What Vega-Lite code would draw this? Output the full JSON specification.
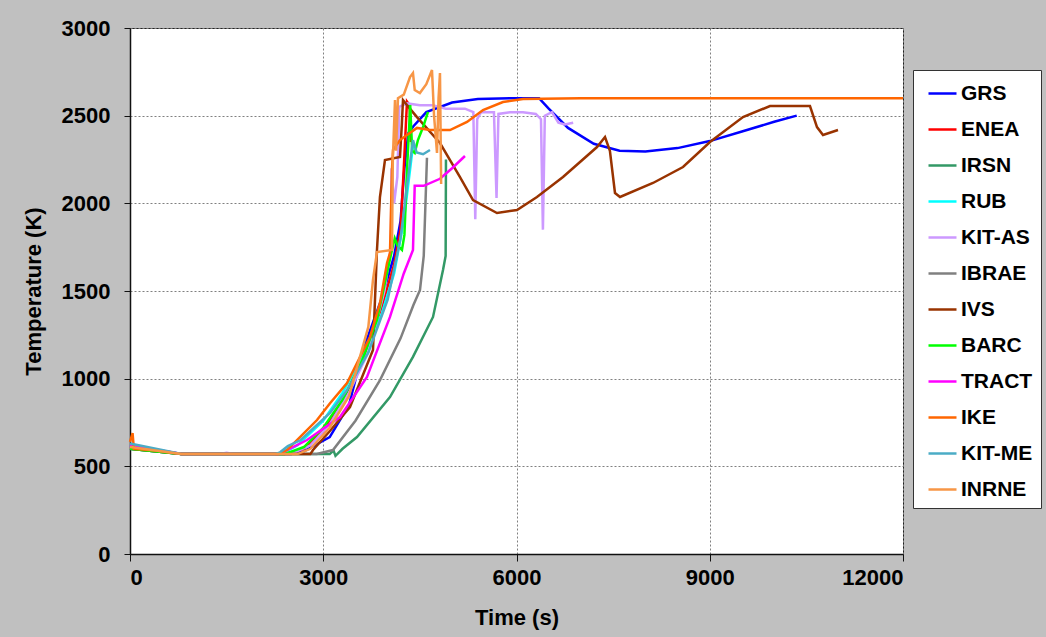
{
  "$schema": "https://vega.github.io/schema/vega-lite/v6.json",
  "autosize": {"type": "none"},
  "padding": {"left": 130, "top": 28, "right": 143, "bottom": 83},
  "width": 773,
  "height": 526,
  "background": "#c0c0c0",
  "config": {
    "view": {"fill": "white", "stroke": "#222222", "strokeWidth": 1},
    "font": "Liberation Sans",
    "legend": {"strokeWidth": 1}
  },
  "data": {"values": [
    {"s":"GRS","t":0,"T":620},{"s":"GRS","t":300,"T":600},{"s":"GRS","t":800,"T":570},{"s":"GRS","t":2500,"T":570},{"s":"GRS","t":2700,"T":585},{"s":"GRS","t":3100,"T":667},{"s":"GRS","t":3400,"T":850},{"s":"GRS","t":3617,"T":1163},{"s":"GRS","t":3900,"T":1450},{"s":"GRS","t":4100,"T":1700},{"s":"GRS","t":4200,"T":1900},{"s":"GRS","t":4260,"T":2200},{"s":"GRS","t":4320,"T":2400},{"s":"GRS","t":4400,"T":2440},{"s":"GRS","t":4600,"T":2520},{"s":"GRS","t":5000,"T":2575},{"s":"GRS","t":5400,"T":2595},{"s":"GRS","t":6000,"T":2600},{"s":"GRS","t":6350,"T":2600},{"s":"GRS","t":6500,"T":2540},{"s":"GRS","t":6800,"T":2430},{"s":"GRS","t":7200,"T":2340},{"s":"GRS","t":7600,"T":2300},{"s":"GRS","t":8000,"T":2295},{"s":"GRS","t":8500,"T":2315},{"s":"GRS","t":9000,"T":2355},{"s":"GRS","t":9500,"T":2410},{"s":"GRS","t":10000,"T":2465},{"s":"GRS","t":10350,"T":2500},

    {"s":"ENEA","t":0,"T":610},{"s":"ENEA","t":800,"T":570},{"s":"ENEA","t":2400,"T":570},{"s":"ENEA","t":2700,"T":600},{"s":"ENEA","t":3000,"T":700},{"s":"ENEA","t":3300,"T":870},{"s":"ENEA","t":3600,"T":1100},{"s":"ENEA","t":3900,"T":1400},{"s":"ENEA","t":4100,"T":1650},{"s":"ENEA","t":4200,"T":1850},{"s":"ENEA","t":4250,"T":2200},{"s":"ENEA","t":4300,"T":2580},{"s":"ENEA","t":4340,"T":2560},{"s":"ENEA","t":4360,"T":2350},

    {"s":"IRSN","t":0,"T":600},{"s":"IRSN","t":800,"T":570},{"s":"IRSN","t":3100,"T":570},{"s":"IRSN","t":3160,"T":590},{"s":"IRSN","t":3190,"T":560},{"s":"IRSN","t":3300,"T":600},{"s":"IRSN","t":3524,"T":667},{"s":"IRSN","t":4036,"T":895},{"s":"IRSN","t":4393,"T":1124},{"s":"IRSN","t":4704,"T":1352},{"s":"IRSN","t":4859,"T":1620},{"s":"IRSN","t":4900,"T":1700},{"s":"IRSN","t":4905,"T":2250},

    {"s":"RUB","t":0,"T":600},{"s":"RUB","t":800,"T":570},{"s":"RUB","t":2350,"T":570},{"s":"RUB","t":2600,"T":620},{"s":"RUB","t":3000,"T":760},{"s":"RUB","t":3300,"T":920},{"s":"RUB","t":3600,"T":1120},{"s":"RUB","t":3900,"T":1360},{"s":"RUB","t":4100,"T":1600},{"s":"RUB","t":4250,"T":1900},{"s":"RUB","t":4350,"T":2200},{"s":"RUB","t":4400,"T":2350},

    {"s":"KIT-AS","t":0,"T":620},{"s":"KIT-AS","t":800,"T":570},{"s":"KIT-AS","t":1400,"T":570},{"s":"KIT-AS","t":1500,"T":578},{"s":"KIT-AS","t":1600,"T":570},{"s":"KIT-AS","t":2500,"T":570},{"s":"KIT-AS","t":2800,"T":620},{"s":"KIT-AS","t":3100,"T":740},{"s":"KIT-AS","t":3400,"T":920},{"s":"KIT-AS","t":3700,"T":1150},{"s":"KIT-AS","t":3950,"T":1500},{"s":"KIT-AS","t":4050,"T":1750},{"s":"KIT-AS","t":4060,"T":2200},{"s":"KIT-AS","t":4080,"T":2100},{"s":"KIT-AS","t":4100,"T":2000},{"s":"KIT-AS","t":4150,"T":2150},{"s":"KIT-AS","t":4180,"T":2550},{"s":"KIT-AS","t":4300,"T":2570},{"s":"KIT-AS","t":4500,"T":2560},{"s":"KIT-AS","t":4700,"T":2560},{"s":"KIT-AS","t":4900,"T":2540},{"s":"KIT-AS","t":5200,"T":2540},{"s":"KIT-AS","t":5330,"T":2520},{"s":"KIT-AS","t":5360,"T":1910},{"s":"KIT-AS","t":5390,"T":2480},{"s":"KIT-AS","t":5450,"T":2520},{"s":"KIT-AS","t":5650,"T":2520},{"s":"KIT-AS","t":5690,"T":2030},{"s":"KIT-AS","t":5720,"T":2510},{"s":"KIT-AS","t":5900,"T":2520},{"s":"KIT-AS","t":6100,"T":2520},{"s":"KIT-AS","t":6300,"T":2510},{"s":"KIT-AS","t":6380,"T":2480},{"s":"KIT-AS","t":6410,"T":1850},{"s":"KIT-AS","t":6440,"T":2500},{"s":"KIT-AS","t":6550,"T":2520},{"s":"KIT-AS","t":6650,"T":2460},{"s":"KIT-AS","t":6750,"T":2450},{"s":"KIT-AS","t":6880,"T":2460},

    {"s":"IBRAE","t":0,"T":600},{"s":"IBRAE","t":800,"T":570},{"s":"IBRAE","t":2900,"T":570},{"s":"IBRAE","t":3151,"T":593},{"s":"IBRAE","t":3500,"T":760},{"s":"IBRAE","t":3881,"T":992},{"s":"IBRAE","t":4200,"T":1230},{"s":"IBRAE","t":4400,"T":1420},{"s":"IBRAE","t":4502,"T":1506},{"s":"IBRAE","t":4560,"T":1700},{"s":"IBRAE","t":4610,"T":2260},

    {"s":"IVS","t":0,"T":600},{"s":"IVS","t":800,"T":570},{"s":"IVS","t":2800,"T":570},{"s":"IVS","t":2841,"T":593},{"s":"IVS","t":3100,"T":700},{"s":"IVS","t":3415,"T":838},{"s":"IVS","t":3772,"T":1163},{"s":"IVS","t":3834,"T":1734},{"s":"IVS","t":3880,"T":2036},{"s":"IVS","t":3958,"T":2247},{"s":"IVS","t":4191,"T":2264},{"s":"IVS","t":4220,"T":2450},{"s":"IVS","t":4238,"T":2589},{"s":"IVS","t":4300,"T":2560},{"s":"IVS","t":4455,"T":2492},{"s":"IVS","t":4812,"T":2344},{"s":"IVS","t":5123,"T":2150},{"s":"IVS","t":5325,"T":2019},{"s":"IVS","t":5697,"T":1945},{"s":"IVS","t":6008,"T":1962},{"s":"IVS","t":6318,"T":2036},{"s":"IVS","t":6722,"T":2150},{"s":"IVS","t":7250,"T":2321},{"s":"IVS","t":7374,"T":2378},{"s":"IVS","t":7450,"T":2300},{"s":"IVS","t":7529,"T":2059},{"s":"IVS","t":7607,"T":2036},{"s":"IVS","t":8119,"T":2116},{"s":"IVS","t":8585,"T":2207},{"s":"IVS","t":9004,"T":2350},{"s":"IVS","t":9516,"T":2492},{"s":"IVS","t":9935,"T":2555},{"s":"IVS","t":10556,"T":2555},{"s":"IVS","t":10665,"T":2435},{"s":"IVS","t":10758,"T":2390},{"s":"IVS","t":10991,"T":2418},

    {"s":"BARC","t":0,"T":600},{"s":"BARC","t":800,"T":570},{"s":"BARC","t":2400,"T":570},{"s":"BARC","t":2700,"T":610},{"s":"BARC","t":3000,"T":720},{"s":"BARC","t":3300,"T":880},{"s":"BARC","t":3600,"T":1100},{"s":"BARC","t":3834,"T":1335},{"s":"BARC","t":4000,"T":1620},{"s":"BARC","t":4067,"T":1734},{"s":"BARC","t":4110,"T":1800},{"s":"BARC","t":4150,"T":1760},{"s":"BARC","t":4222,"T":1734},{"s":"BARC","t":4260,"T":1820},{"s":"BARC","t":4300,"T":2190},{"s":"BARC","t":4350,"T":2560},{"s":"BARC","t":4380,"T":2300},{"s":"BARC","t":4420,"T":2287},{"s":"BARC","t":4470,"T":2361},{"s":"BARC","t":4550,"T":2435},{"s":"BARC","t":4626,"T":2521},

    {"s":"TRACT","t":0,"T":620},{"s":"TRACT","t":800,"T":570},{"s":"TRACT","t":2300,"T":570},{"s":"TRACT","t":2437,"T":593},{"s":"TRACT","t":2748,"T":650},{"s":"TRACT","t":3260,"T":781},{"s":"TRACT","t":3679,"T":1010},{"s":"TRACT","t":4036,"T":1352},{"s":"TRACT","t":4250,"T":1600},{"s":"TRACT","t":4393,"T":1734},{"s":"TRACT","t":4420,"T":2100},{"s":"TRACT","t":4560,"T":2100},{"s":"TRACT","t":4812,"T":2140},{"s":"TRACT","t":5000,"T":2200},{"s":"TRACT","t":5200,"T":2270},

    {"s":"IKE","t":0,"T":640},{"s":"IKE","t":40,"T":690},{"s":"IKE","t":60,"T":600},{"s":"IKE","t":400,"T":590},{"s":"IKE","t":800,"T":570},{"s":"IKE","t":2300,"T":570},{"s":"IKE","t":2437,"T":593},{"s":"IKE","t":2639,"T":667},{"s":"IKE","t":2903,"T":764},{"s":"IKE","t":3105,"T":860},{"s":"IKE","t":3369,"T":975},{"s":"IKE","t":3726,"T":1238},{"s":"IKE","t":3881,"T":1432},{"s":"IKE","t":3990,"T":1660},{"s":"IKE","t":4036,"T":1717},{"s":"IKE","t":4067,"T":2190},{"s":"IKE","t":4083,"T":2304},{"s":"IKE","t":4191,"T":2361},{"s":"IKE","t":4455,"T":2430},{"s":"IKE","t":4657,"T":2418},{"s":"IKE","t":4968,"T":2418},{"s":"IKE","t":5232,"T":2464},{"s":"IKE","t":5480,"T":2532},{"s":"IKE","t":5790,"T":2578},{"s":"IKE","t":6101,"T":2595},{"s":"IKE","t":7000,"T":2600},{"s":"IKE","t":12000,"T":2600},

    {"s":"KIT-ME","t":0,"T":630},{"s":"KIT-ME","t":800,"T":570},{"s":"KIT-ME","t":2250,"T":570},{"s":"KIT-ME","t":2329,"T":580},{"s":"KIT-ME","t":2450,"T":615},{"s":"KIT-ME","t":2650,"T":650},{"s":"KIT-ME","t":3105,"T":804},{"s":"KIT-ME","t":3369,"T":935},{"s":"KIT-ME","t":3700,"T":1150},{"s":"KIT-ME","t":4000,"T":1450},{"s":"KIT-ME","t":4200,"T":1800},{"s":"KIT-ME","t":4300,"T":2100},{"s":"KIT-ME","t":4393,"T":2361},{"s":"KIT-ME","t":4450,"T":2290},{"s":"KIT-ME","t":4550,"T":2280},{"s":"KIT-ME","t":4657,"T":2304},

    {"s":"INRNE","t":0,"T":610},{"s":"INRNE","t":800,"T":570},{"s":"INRNE","t":2600,"T":570},{"s":"INRNE","t":2800,"T":600},{"s":"INRNE","t":3100,"T":720},{"s":"INRNE","t":3400,"T":900},{"s":"INRNE","t":3570,"T":1124},{"s":"INRNE","t":3700,"T":1295},{"s":"INRNE","t":3772,"T":1563},{"s":"INRNE","t":3834,"T":1722},{"s":"INRNE","t":4067,"T":1734},{"s":"INRNE","t":4080,"T":2250},{"s":"INRNE","t":4114,"T":2589},{"s":"INRNE","t":4130,"T":2300},{"s":"INRNE","t":4160,"T":2600},{"s":"INRNE","t":4250,"T":2620},{"s":"INRNE","t":4347,"T":2720},{"s":"INRNE","t":4393,"T":2743},{"s":"INRNE","t":4420,"T":2646},{"s":"INRNE","t":4500,"T":2629},{"s":"INRNE","t":4600,"T":2680},{"s":"INRNE","t":4688,"T":2760},{"s":"INRNE","t":4720,"T":2500},{"s":"INRNE","t":4766,"T":2287},{"s":"INRNE","t":4790,"T":2600},{"s":"INRNE","t":4812,"T":2743},{"s":"INRNE","t":4830,"T":2110}
  ]},
  "mark": {"type": "line", "strokeWidth": 2.5, "interpolate": "linear"},
  "encoding": {
    "x": {
      "field": "t", "type": "quantitative",
      "scale": {"domain": [0, 12000], "nice": false},
      "axis": {
        "title": "Time (s)", "values": [0, 3000, 6000, 9000, 12000],
        "format": "d",
        "grid": true, "gridColor": "#808080", "gridDash": [2, 2], "gridWidth": 1,
        "domainColor": "#111111", "domainWidth": 1.5,
        "tickColor": "#111111", "tickSize": 7, "tickWidth": 1,
        "labelFont": "Liberation Sans", "labelFontSize": 22, "labelFontWeight": "bold", "labelColor": "black", "labelPadding": 6,
        "titleFont": "Liberation Sans", "titleFontSize": 22, "titleFontWeight": "bold", "titleColor": "black",
        "titleY": 63, "titleBaseline": "middle"
      }
    },
    "y": {
      "field": "T", "type": "quantitative",
      "scale": {"domain": [0, 3000], "nice": false},
      "axis": {
        "title": "Temperature (K)", "values": [0, 500, 1000, 1500, 2000, 2500, 3000],
        "format": "d",
        "grid": true, "gridColor": "#808080", "gridDash": [2, 2], "gridWidth": 1,
        "domainColor": "#111111", "domainWidth": 1.5,
        "tickColor": "#111111", "tickSize": 6, "tickWidth": 1,
        "labelFont": "Liberation Sans", "labelFontSize": 22, "labelFontWeight": "bold", "labelColor": "black", "labelPadding": 14,
        "titleFont": "Liberation Sans", "titleFontSize": 22, "titleFontWeight": "bold", "titleColor": "black",
        "titleX": -97, "titleY": 263, "titleAngle": -90, "titleBaseline": "middle", "titleAlign": "center"
      }
    },
    "color": {
      "field": "s", "type": "nominal",
      "scale": {
        "domain": ["GRS","ENEA","IRSN","RUB","KIT-AS","IBRAE","IVS","BARC","TRACT","IKE","KIT-ME","INRNE"],
        "range": ["#0000ff","#ff0000","#339966","#00ffff","#cc99ff","#808080","#993300","#00ff00","#ff00ff","#ff6600","#4bacc6","#f79646"]
      },
      "legend": {
        "title": null,
        "orient": "none", "legendX": 783, "legendY": 42,
        "fillColor": "white", "strokeColor": "#333333",
        "padding": 8, "symbolOffset": 6,
        "symbolType": "stroke", "symbolSize": 784, "symbolStrokeWidth": 2.5,
        "labelFont": "Liberation Sans", "labelFontSize": 21, "labelFontWeight": "bold", "labelColor": "black",
        "labelOffset": 3, "rowPadding": 10, "labelLimit": 200
      }
    }
  }
}
